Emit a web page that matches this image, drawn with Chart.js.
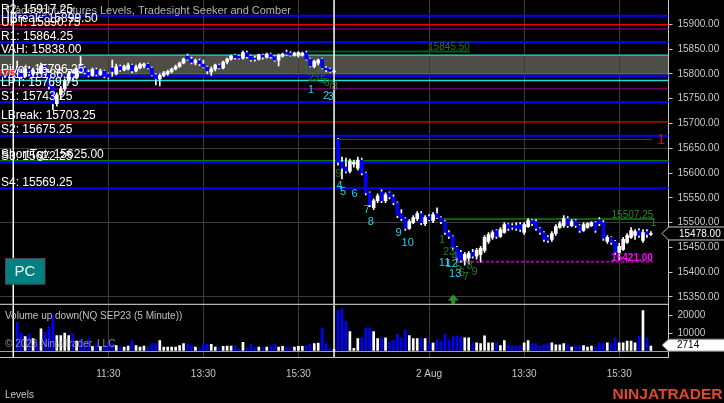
<!DOCTYPE html>
<html><head><meta charset="utf-8">
<script src="https://cdn.jsdelivr.net/npm/chart.js@4.4.0/dist/chart.umd.min.js"></script>
<style>html,body{margin:0;padding:0;background:#000;overflow:hidden}canvas{display:block}</style>
</head><body>
<canvas id="c" width="724" height="403"></canvas>
<script>
// ---------------- data ----------------
const firstBar = 4; // bar index of the first 5-minute bar
const opens = [
15812,15803,15795,15810,15800,15808,15802,15816,15801,15775,15740,15758,15770,15786,15800,15792,15815,15812,15803,15797,
15809,15799,15806,15800,15812,15800,15815,15808,15810,15818,15806,15812,15816,15820,15812,15798,15790,15797,15800,15805,
15810,15815,15822,15836,15830,15822,15827,15820,15814,15804,15810,15818,15812,15824,15830,15838,15836,15832,15843,15836,
15832,15830,15838,15834,15840,15835,15828,15836,15844,15842,15838,15838,15838,15843,15830,15815,15822,15830,15812,15810,15804,
15668,15622,15612,15604,15618,15610,15626,15600,15560,15530,15544,15562,15544,15560,15552,15540,15518,15508,15488,15500,
15508,15518,15498,15512,15504,15518,15510,15502,15480,15472,15450,15440,15424,15428,15440,15432,15436,15444,15462,15470,
15484,15472,15480,15496,15494,15494,15496,15480,15492,15504,15502,15488,15480,15470,15466,15478,15490,15494,15508,15494,
15504,15494,15484,15490,15494,15500,15506,15500,15462,15470,15462,15440,15446,15460,15470,15474,15484,15464,15482,15476];
const highs = [
15826,15810,15815,15814,15812,15811,15822,15818,15805,15778,15762,15775,15790,15805,15806,15812,15835,15815,15808,15812,
15812,15810,15808,15802,15828,15820,15818,15818,15822,15820,15818,15822,15822,15822,15814,15800,15800,15805,15808,15812,
15818,15824,15832,15840,15834,15830,15830,15828,15816,15814,15820,15820,15826,15832,15838,15840,15838,15846,15846,15838,
15836,15840,15840,15842,15842,15837,15840,15842,15848,15845,15844,15845,15844,15846,15832,15828,15830,15832,15815,15812,15808,
15670,15632,15630,15628,15626,15632,15630,15602,15562,15548,15558,15566,15560,15562,15556,15542,15526,15510,15506,15514,
15522,15522,15514,15516,15520,15530,15512,15504,15484,15474,15452,15444,15440,15442,15446,15448,15452,15474,15480,15484,
15486,15490,15500,15498,15498,15500,15500,15500,15508,15506,15506,15490,15482,15474,15482,15496,15502,15514,15512,15506,
15506,15496,15500,15500,15502,15502,15510,15504,15474,15472,15464,15458,15470,15478,15490,15486,15488,15486,15486,15482];
const lows = [
15800,15790,15793,15796,15797,15798,15800,15798,15770,15728,15735,15748,15765,15782,15788,15790,15802,15800,15794,15795,
15796,15797,15792,15790,15795,15798,15805,15806,15808,15802,15804,15810,15812,15810,15796,15778,15776,15794,15797,15802,
15808,15813,15820,15828,15820,15818,15817,15812,15800,15797,15806,15810,15810,15820,15828,15830,15830,15830,15832,15826,
15826,15828,15830,15832,15832,15825,15816,15834,15838,15836,15836,15834,15836,15828,15814,15812,15818,15810,15804,15803,15803,
15616,15588,15600,15600,15612,15606,15596,15556,15532,15526,15540,15540,15540,15548,15536,15510,15504,15484,15486,15498,
15504,15496,15494,15504,15500,15508,15498,15476,15468,15446,15424,15420,15414,15416,15428,15426,15420,15440,15458,15466,
15468,15470,15478,15484,15486,15484,15482,15476,15490,15494,15484,15476,15462,15460,15462,15474,15488,15490,15490,15492,
15490,15480,15482,15488,15492,15480,15494,15464,15458,15456,15436,15424,15444,15458,15468,15466,15470,15460,15470,15474];
const closes = [
15803,15795,15810,15800,15808,15802,15816,15801,15775,15740,15758,15770,15786,15800,15792,15808,15805,15803,15797,15809,
15799,15806,15795,15793,15805,15815,15808,15815,15818,15806,15814,15819,15820,15812,15798,15790,15797,15802,15805,15810,
15815,15822,15830,15830,15823,15827,15820,15814,15806,15810,15818,15812,15824,15830,15836,15833,15832,15843,15835,15829,
15830,15838,15834,15840,15835,15828,15838,15840,15840,15838,15842,15843,15842,15830,15816,15825,15828,15812,15808,15805,15806,
15622,15610,15604,15624,15622,15626,15600,15560,15536,15544,15554,15544,15556,15552,15540,15514,15508,15488,15502,15510,
15518,15500,15510,15506,15516,15510,15502,15480,15472,15450,15428,15424,15436,15438,15432,15444,15448,15470,15476,15480,
15472,15486,15496,15488,15490,15488,15486,15496,15504,15498,15488,15480,15466,15464,15478,15492,15498,15508,15494,15502,
15494,15484,15496,15498,15500,15484,15498,15468,15470,15460,15440,15452,15466,15474,15484,15482,15474,15480,15476,15478];
const volumes = [
16100,10200,8100,9600,6900,5000,12400,10600,13700,19800,8700,8700,10000,8700,9600,5600,6500,4600,6900,2600,
4100,2600,3100,5000,4100,3100,2200,2200,2800,5900,3100,2200,2800,2200,4100,4100,5900,2200,2200,2200,
2200,3100,4100,3700,3100,2200,1700,3700,3700,3700,2200,1700,2600,2800,2800,3100,1300,4800,1700,3700,
2200,2200,1700,2200,2800,3700,2200,2600,1900,1900,2200,2600,2600,3100,3700,4100,4400,12600,4100,1300,800,
22600,23700,16500,10900,1500,6900,7400,13000,13000,10900,6900,7400,7400,4800,5900,9400,7400,12000,8700,6900,
6900,7400,6900,5000,4400,6300,5600,9300,5900,8100,8500,7800,7400,7400,4600,4600,4100,8500,4600,4600,
4600,3100,5900,3500,3100,2800,3100,4600,5900,4100,4100,2800,3500,4100,4600,3500,3500,4100,3500,2200,
2800,3100,3100,2200,2800,2200,4600,4600,4600,4100,7400,4600,4600,5600,5600,4600,8300,22600,7400,2714];

const timeTickIdx = [27, 51, 75, 108, 132, 156];
const timeTickLabels = ['11:30', '13:30', '15:30', '2 Aug', '13:30', '15:30'];
const priceTicks = [15350,15400,15450,15500,15550,15600,15650,15700,15750,15800,15850,15900];
const priceGridLevels = [15350, 15500, 15650, 15800];
const volumeTicks = [0, 10000, 20000];
const sessionBreaks = [3, 84];

const levelNames  = ['R2','HBreak','UPT','R1','VAH','Pivot','VAL','LPT','S1','LBreak','S2','ShortTgt','S3','S4'];
const levelValues = [15917.25,15899.50,15890.75,15864.25,15838.00,15796.25,15786.75,15769.75,15743.25,15703.25,15675.25,15625.00,15622.25,15569.25];
const levelColors = ['#0000ff','#ee0000','#800080','#0000ff','#22d8d8','#0000ff','#22d8d8','#800080','#0000ff','#ee0000','#0000ff','#008000','#0000ff','#0000ff'];
const levelWidths = [2,1.3,1.3,2,1.3,2.2,1.3,1.3,2,1.3,2,1.3,2,2];
const bandRange = [15838.00, 15800.00];

const rayValues = [15845.50, 15507.25, 15667.75, 15421.00];
const rayStart  = [77.2, 111.6, 85.0, 114.8];
const rayEnd    = [118.3, 164.6, 164.3, 164.5];
const rayColors = ['#0b5a0b', '#0b5e0b', '#e00000', '#a400a4'];
const rayWidths = [2, 2, 1, 2];
const rayDash   = [[], [], [], [3, 2]];
const rayLabels = ['15845.50', '15507.25', '', '15421.00'];
const rayLabelColors = ['#1e7a1e', '#2a8a2a', '', '#ff00ff'];

const seekerText  = ['1','2','3','4','5','6','7','8','9','10','11','12','13'];
const seekerIdx   = [78.2,82.0,83.2,85.4,86.3,89.2,92.3,93.3,100.3,102.6,111.9,113.7,114.6];
const seekerPrice = [15767.6,15755.5,15753.4,15573.8,15561.7,15557.7,15525.4,15502.2,15480.0,15459.8,15418.4,15417.4,15397.2];

const comberText  = ['1','2','3','4','5','6','7','8','9','1','2','3','4','5','6','7','8','9'];
const comberIdx   = [76.9,78.2,79.5,80.2,81.2,82.2,83.2,84.2,85.1,111.3,112.3,113.8,114.5,115.4,116.3,117.3,118.3,119.5];
const comberPrice = [15805.9,15791.8,15791.8,15805.9,15787.7,15781.7,15777.7,15773.6,15597.4,15464.8,15440.6,15440.6,15430.5,15410.4,15398.2,15390.2,15412.4,15401.3];

const markText  = ['1', '1'];
const markIdx   = [164.7, 166.6];
const markPrice = [15499.1, 15665.6];
const markColors = ['#1f8a1f', '#e00000'];
const markSizes = [11, 14];

const arrowIdx = 114.1, arrowPrice = 15355;
const chartTitle = 'Tradesight Futures Levels, Tradesight Seeker and Comber';
const volumeTitle = 'Volume up down(NQ SEP23 (5 Minute))';

// ---------------- chart ----------------
const FONT = '"Liberation Sans", Arial, sans-serif';
Chart.defaults.font.family = FONT;
const UP = '#ffffff', DOWN = '#0000ff';
const barIdx = opens.map((_, i) => firstBar + i);
const isUp = closes.map((c, i) => c >= opens[i]);
const barColors = isUp.map(u => u ? UP : DOWN);
const CLEAR = 'rgba(0,0,0,0)';

const ntPlugin = {
  id: 'nt',
  beforeDraw(chart) {
    const {ctx, chartArea: a} = chart; const y = chart.scales.y;
    ctx.save();
    ctx.fillStyle = '#000'; ctx.fillRect(0, 0, chart.width, chart.height);
    const t = y.getPixelForValue(bandRange[0]), b = y.getPixelForValue(bandRange[1]);
    ctx.fillStyle = '#4e4d46'; ctx.fillRect(a.left, t, a.right - a.left, b - t);
    ctx.restore();
  },
  beforeDatasetsDraw(chart) {
    const {ctx, chartArea: a} = chart; const {x, y, yv} = chart.scales;
    ctx.save();
    ctx.strokeStyle = '#7a7a72'; ctx.lineWidth = 1;
    const bb = y.getPixelForValue(bandRange[1]);
    ctx.beginPath(); ctx.moveTo(a.left, bb); ctx.lineTo(a.right, bb); ctx.stroke();
    levelValues.forEach((v, i) => {
      const py = y.getPixelForValue(v);
      ctx.strokeStyle = levelColors[i]; ctx.lineWidth = levelWidths[i];
      ctx.beginPath(); ctx.moveTo(a.left, py); ctx.lineTo(a.right, py); ctx.stroke();
    });
    rayValues.forEach((v, i) => {
      const py = y.getPixelForValue(v);
      ctx.strokeStyle = rayColors[i]; ctx.lineWidth = rayWidths[i]; ctx.setLineDash(rayDash[i]);
      ctx.beginPath(); ctx.moveTo(x.getPixelForValue(rayStart[i]), py); ctx.lineTo(x.getPixelForValue(rayEnd[i]), py); ctx.stroke();
    });
    ctx.setLineDash([]);
    ctx.strokeStyle = '#ffffff'; ctx.lineWidth = 1.5;
    sessionBreaks.forEach(v => {
      const px = x.getPixelForValue(v);
      ctx.beginPath(); ctx.moveTo(px, a.top); ctx.lineTo(px, a.bottom); ctx.stroke();
    });
    ctx.strokeStyle = '#b4b4b4'; ctx.lineWidth = 1.2;
    ctx.beginPath(); ctx.moveTo(a.left, yv.top); ctx.lineTo(a.right, yv.top); ctx.stroke();
    ctx.restore();
  },
  afterDatasetsDraw(chart) {
    const {ctx, chartArea: a} = chart; const {x, y, yv} = chart.scales;
    ctx.save();
    ctx.textAlign = 'left'; ctx.textBaseline = 'alphabetic';
    ctx.font = '11px ' + FONT; ctx.fillStyle = '#b4b4b4';
    ctx.fillText(chartTitle, 5, 13.5);
    ctx.font = '12px ' + FONT; ctx.fillStyle = '#ffffff';
    levelValues.forEach((v, i) => {
      ctx.fillText(levelNames[i] + ': ' + v.toFixed(2), 1, y.getPixelForValue(v) - 2.5);
    });
    ctx.font = 'bold 9px ' + FONT; ctx.fillStyle = '#ff2020'; ctx.textAlign = 'right';
    ctx.fillText(levelValues[6].toFixed(2), 15, y.getPixelForValue(levelValues[6]) - 4.5);
    // ray labels
    rayLabels.forEach((t, i) => {
      if (!t) return;
      ctx.font = (i === 3 ? 'bold ' : '') + '10px ' + FONT;
      ctx.fillStyle = rayLabelColors[i]; ctx.textAlign = 'right';
      ctx.fillText(t, x.getPixelForValue(rayEnd[i]), y.getPixelForValue(rayValues[i]) - 1.2);
    });
    // counts
    ctx.textAlign = 'center'; ctx.textBaseline = 'middle';
    ctx.font = '11px ' + FONT; ctx.fillStyle = '#1f7f1f';
    comberText.forEach((t, i) => ctx.fillText(t, x.getPixelForValue(comberIdx[i]), y.getPixelForValue(comberPrice[i])));
    ctx.fillStyle = '#22d3e6';
    seekerText.forEach((t, i) => ctx.fillText(t, x.getPixelForValue(seekerIdx[i]), y.getPixelForValue(seekerPrice[i])));
    markText.forEach((t, i) => {
      ctx.font = markSizes[i] + 'px ' + FONT; ctx.fillStyle = markColors[i];
      ctx.fillText(t, x.getPixelForValue(markIdx[i]), y.getPixelForValue(markPrice[i]));
    });
    // arrow
    const ax = x.getPixelForValue(arrowIdx), ay = y.getPixelForValue(arrowPrice);
    ctx.fillStyle = '#2f8f2f';
    ctx.beginPath(); ctx.moveTo(ax, ay); ctx.lineTo(ax + 5.5, ay + 6); ctx.lineTo(ax + 2, ay + 6);
    ctx.lineTo(ax + 2, yv.top); ctx.lineTo(ax - 2, yv.top); ctx.lineTo(ax - 2, ay + 6); ctx.lineTo(ax - 5.5, ay + 6);
    ctx.closePath(); ctx.fill();
    // PC button
    ctx.fillStyle = '#008080'; ctx.fillRect(5, 258.5, 40, 26);
    ctx.strokeStyle = '#4a4a4a'; ctx.lineWidth = 1; ctx.strokeRect(5.5, 258.5, 39.5, 25.5);
    ctx.fillStyle = '#e8f6f6'; ctx.font = '15px ' + FONT; ctx.textAlign = 'center'; ctx.textBaseline = 'middle';
    ctx.fillText('PC', 25, 272);
    // tags
    const tag = (py, text, fill, stroke, color, h, dx) => {
      const l = a.right, tip = l - 6.5, r = chart.width + 2;
      ctx.beginPath(); ctx.moveTo(tip, py); ctx.lineTo(l, py - h); ctx.lineTo(r, py - h);
      ctx.lineTo(r, py + h); ctx.lineTo(l, py + h); ctx.closePath();
      ctx.fillStyle = fill; ctx.fill(); ctx.strokeStyle = stroke; ctx.lineWidth = 1; ctx.stroke();
      ctx.fillStyle = color; ctx.font = '10px ' + FONT; ctx.textAlign = 'left'; ctx.textBaseline = 'middle';
      ctx.fillText(text, l + dx, py + 0.5);
    };
    const last = closes.length - 1;
    tag(y.getPixelForValue(closes[last]), closes[last].toFixed(2), '#000000', '#c8c8c8', '#ffffff', 6.5, 10.5);
    tag(yv.getPixelForValue(volumes[last]) - 1, String(volumes[last]), '#ffffff', '#808080', '#000000', 6, 8.5);
    // panel texts
    ctx.textAlign = 'left'; ctx.textBaseline = 'alphabetic';
    ctx.font = '10px ' + FONT; ctx.fillStyle = '#c0c0c0';
    ctx.fillText(volumeTitle, 5, 319);
    ctx.fillStyle = 'rgba(170,170,170,0.85)';
    ctx.fillText('\u00a9 2023 NinjaTrader, LLC', 5, 346.5);
    ctx.fillStyle = '#c8c8c8';
    ctx.fillText('Levels', 5, 398);
    ctx.font = 'bold 15.5px ' + FONT; ctx.fillStyle = '#e2472f'; ctx.textAlign = 'right';
    ctx.fillText('NINJATRADER', 722.5, 398.5);
    ctx.restore();
  }
};

const fitY = s => { s.width = 55.5; s.paddingTop = 0; s.paddingBottom = 0; };

new Chart(document.getElementById('c'), {
  type: 'bar',
  data: {
    datasets: [
      { label: 'body', order: 0, yAxisID: 'y', xAxisID: 'x', grouped: false, barThickness: 3,
        data: barIdx.map((v, i) => ({x: v, y: [opens[i], closes[i]]})), backgroundColor: barColors },
      { label: 'wick', order: 1, yAxisID: 'y', xAxisID: 'x', grouped: false, barThickness: 1,
        data: barIdx.map((v, i) => ({x: v, y: [lows[i], highs[i]]})), backgroundColor: '#ffffff' },
      { label: 'volume', order: 2, yAxisID: 'yv', xAxisID: 'x', grouped: false, barThickness: 2,
        data: barIdx.map((v, i) => ({x: v, y: volumes[i]})), backgroundColor: barColors }
    ]
  },
  options: {
    responsive: false, maintainAspectRatio: false, animation: false, devicePixelRatio: 1, events: [],
    layout: { padding: 0 },
    plugins: { legend: { display: false }, tooltip: { enabled: false } },
    scales: {
      x: {
        type: 'linear', position: 'bottom', min: -0.35, max: 168.45, offset: false,
        afterBuildTicks: s => { s.ticks = timeTickIdx.map(v => ({value: v})); },
        afterFit: s => { s.height = 46; s.paddingLeft = 0; s.paddingRight = 0; },
        ticks: { autoSkip: false, maxRotation: 0, minRotation: 0, padding: 11, color: '#c8c8c8',
                 font: { size: 10 }, callback: (v, i) => timeTickLabels[i] },
        grid: { color: '#3c3c3c', drawTicks: false, offset: false },
        border: { display: true, color: '#c8c8c8' }
      },
      y: {
        type: 'linear', position: 'right', stack: 'panels', stackWeight: 304.3, min: 15335.1, max: 15949.2,
        afterBuildTicks: s => { s.ticks = priceTicks.map(v => ({value: v})); },
        afterFit: fitY,
        ticks: { autoSkip: false, color: '#c8c8c8', font: { size: 10 }, padding: 5, callback: v => Number(v).toFixed(2) },
        grid: { color: c => (c.tick && priceGridLevels.includes(c.tick.value)) ? '#3c3c3c' : CLEAR,
                tickColor: '#c8c8c8', tickLength: 4 },
        border: { display: true, color: '#c8c8c8' }
      },
      yv: {
        type: 'linear', position: 'right', stack: 'panels', stackWeight: 52.7, min: -3333, max: 26111,
        afterBuildTicks: s => { s.ticks = volumeTicks.map(v => ({value: v})); },
        afterFit: fitY,
        ticks: { autoSkip: false, color: '#c8c8c8', font: { size: 10 }, padding: 5, callback: v => v === 0 ? '' : String(v) },
        grid: { color: c => (c.tick && c.tick.value === 0) ? '#a0a0a0' : CLEAR,
                tickColor: c => (c.tick && c.tick.value === 0) ? CLEAR : '#c8c8c8', tickLength: 4 },
        border: { display: true, color: '#c8c8c8' }
      }
    }
  },
  plugins: [ntPlugin]
});
</script>
</body></html>
